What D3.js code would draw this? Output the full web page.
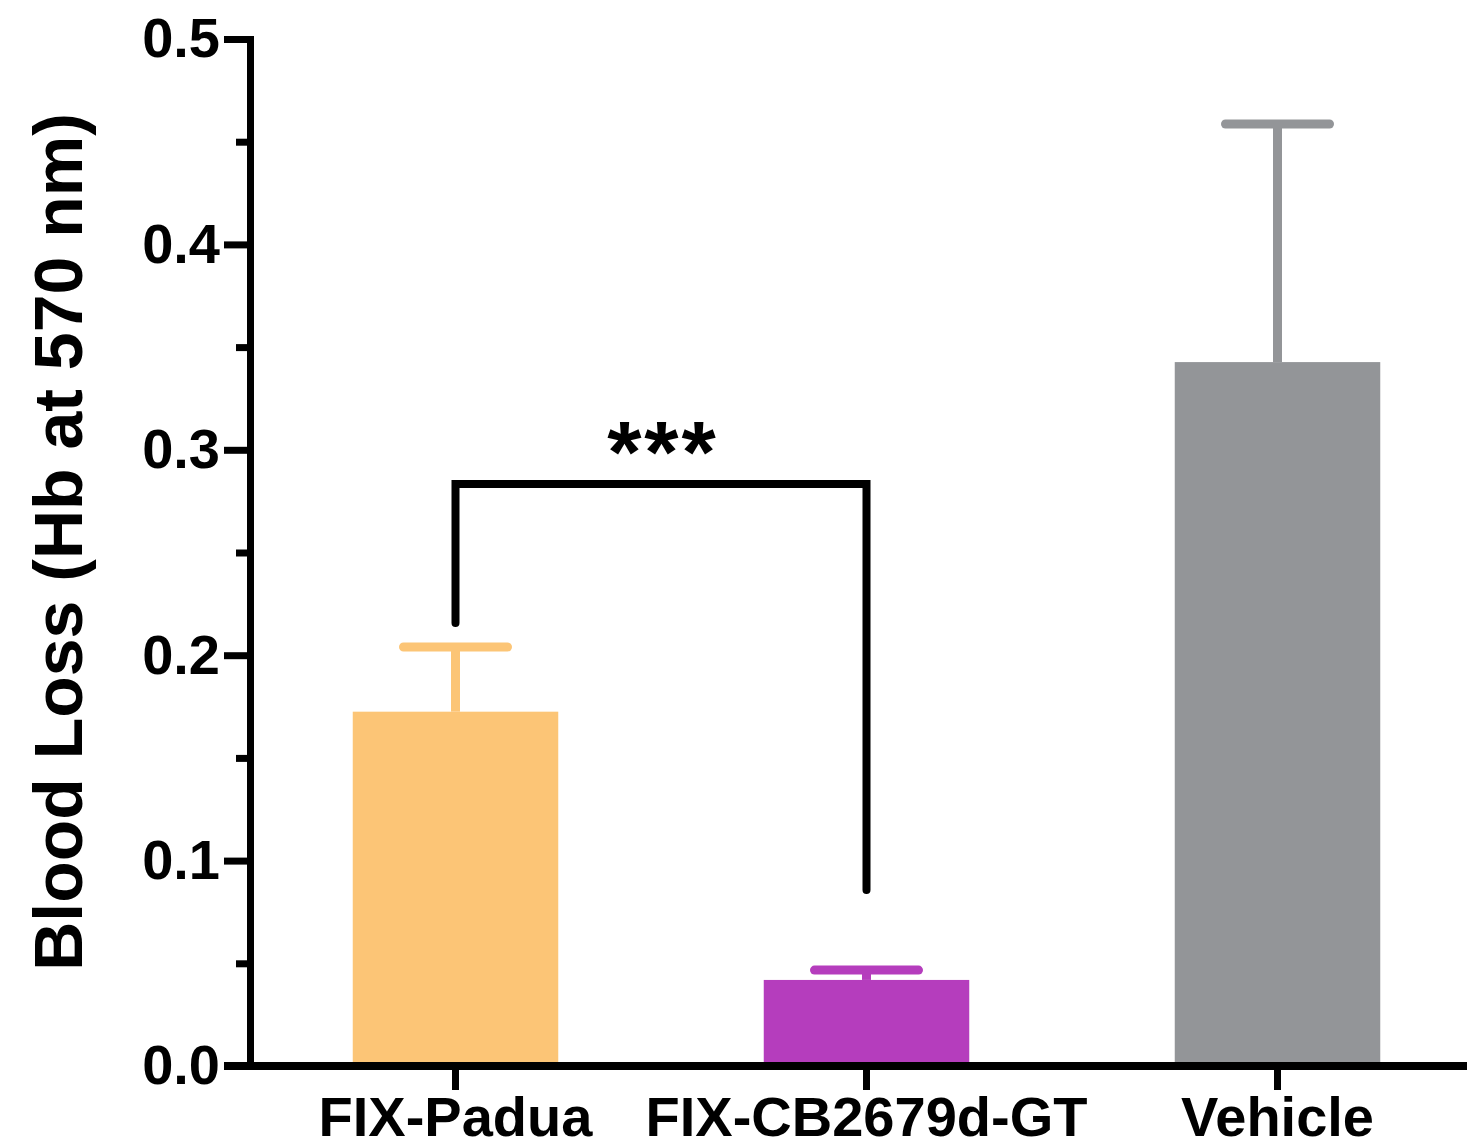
<!DOCTYPE html>
<html>
<head>
<meta charset="utf-8">
<script src="https://cdn.jsdelivr.net/npm/d3@7"></script>
<style>
  body { margin: 0; background: #fff; }
  text { font-family: "Liberation Sans", Arial, sans-serif; font-weight: bold; }
</style>
</head>
<body>
<script>
// data
const groups = ["FIX-Padua", "FIX-CB2679d-GT", "Vehicle"]
const means = [0.1725, 0.0419, 0.3427]
const errTops = [0.204, 0.0467, 0.4586]   // mean + SEM
const colors = ["#fcc576", "#b53dbd", "#939598"]
const majorTicks = [0, 0.1, 0.2, 0.3, 0.4, 0.5]
const minorTicks = [0.05, 0.15, 0.25, 0.35, 0.45]
// significance bracket: from group 0 to group 1
const bracket = {from: 0, to: 1, top: 0.2834, leftEnd: 0.2157, rightEnd: 0.0857, label: "***"}

const W = 1467, H = 1148
const svg = d3.select("body").append("svg").attr("width", W).attr("height", H)

const x0 = 250, y0 = 1066
let x = d3.scaleBand().domain(groups).range([x0, 1483]).paddingInner(0.5).paddingOuter(0.25)
let y = d3.scaleLinear().domain([0, 0.5]).range([y0, 39])

// bars
svg.selectAll(".bar").data(groups).enter().append("rect")
  .attr("x", d => x(d))
  .attr("width", x.bandwidth())
  .attr("y", (d, i) => y(means[i]))
  .attr("height", (d, i) => y0 - y(means[i]))
  .attr("fill", (d, i) => colors[i])

// error bars (upper only)
groups.forEach((g, i) => {
  const cx = x(g) + x.bandwidth() / 2
  svg.append("line").attr("x1", cx).attr("x2", cx)
    .attr("y1", y(means[i])).attr("y2", y(errTops[i]))
    .attr("stroke", colors[i]).attr("stroke-width", 9)
  svg.append("line").attr("x1", cx - 52).attr("x2", cx + 52)
    .attr("y1", y(errTops[i])).attr("y2", y(errTops[i]))
    .attr("stroke", colors[i]).attr("stroke-width", 9).attr("stroke-linecap", "round")
})

// y axis
let yAxis = svg.append("g").attr("transform", "translate(" + x0 + ",0)")
  .call(d3.axisLeft(y).tickValues(majorTicks).tickFormat(d3.format(".1f")).tickSize(26).tickSizeOuter(0).tickPadding(4))
yAxis.select(".domain").attr("stroke-width", 7).attr("stroke-linecap", "square")
yAxis.selectAll(".tick line").attr("stroke-width", 7)
yAxis.selectAll(".tick text").attr("font-size", 56).attr("fill", "#000")

let yMinor = svg.append("g").attr("transform", "translate(" + x0 + ",0)")
  .call(d3.axisLeft(y).tickValues(minorTicks).tickFormat("").tickSize(14).tickSizeOuter(0))
yMinor.select(".domain").remove()
yMinor.selectAll(".tick line").attr("stroke-width", 7)

// x axis
svg.append("line").attr("x1", x0 - 26).attr("x2", W).attr("y1", y0).attr("y2", y0)
  .attr("stroke", "#000").attr("stroke-width", 8)
let xAxis = svg.append("g").attr("transform", "translate(0," + y0 + ")")
  .call(d3.axisBottom(x).tickSize(24).tickSizeOuter(0))
xAxis.select(".domain").remove()
xAxis.selectAll(".tick line").attr("stroke-width", 7)
xAxis.selectAll(".tick text").attr("font-size", 56).attr("fill", "#000")
  .attr("y", 70).attr("dy", null)

// y label
svg.append("text")
  .attr("transform", "translate(82,542) rotate(-90)")
  .attr("text-anchor", "middle")
  .attr("font-size", 68)
  .text("Blood Loss (Hb at 570 nm)")

// significance bracket
const bx1 = x(groups[bracket.from]) + x.bandwidth() / 2
const bx2 = x(groups[bracket.to]) + x.bandwidth() / 2
svg.append("path")
  .attr("d", d3.line()([[bx1, y(bracket.leftEnd)], [bx1, y(bracket.top)], [bx2, y(bracket.top)], [bx2, y(bracket.rightEnd)]]))
  .attr("fill", "none").attr("stroke", "#000").attr("stroke-width", 8)
  .attr("stroke-linejoin", "miter").attr("stroke-linecap", "round")
svg.append("text")
  .attr("x", (bx1 + bx2) / 2 + 2).attr("y", y(bracket.top) - 2)
  .attr("text-anchor", "middle").attr("font-size", 88)
  .attr("letter-spacing", 3)
  .text(bracket.label)
</script>
</body>
</html>
